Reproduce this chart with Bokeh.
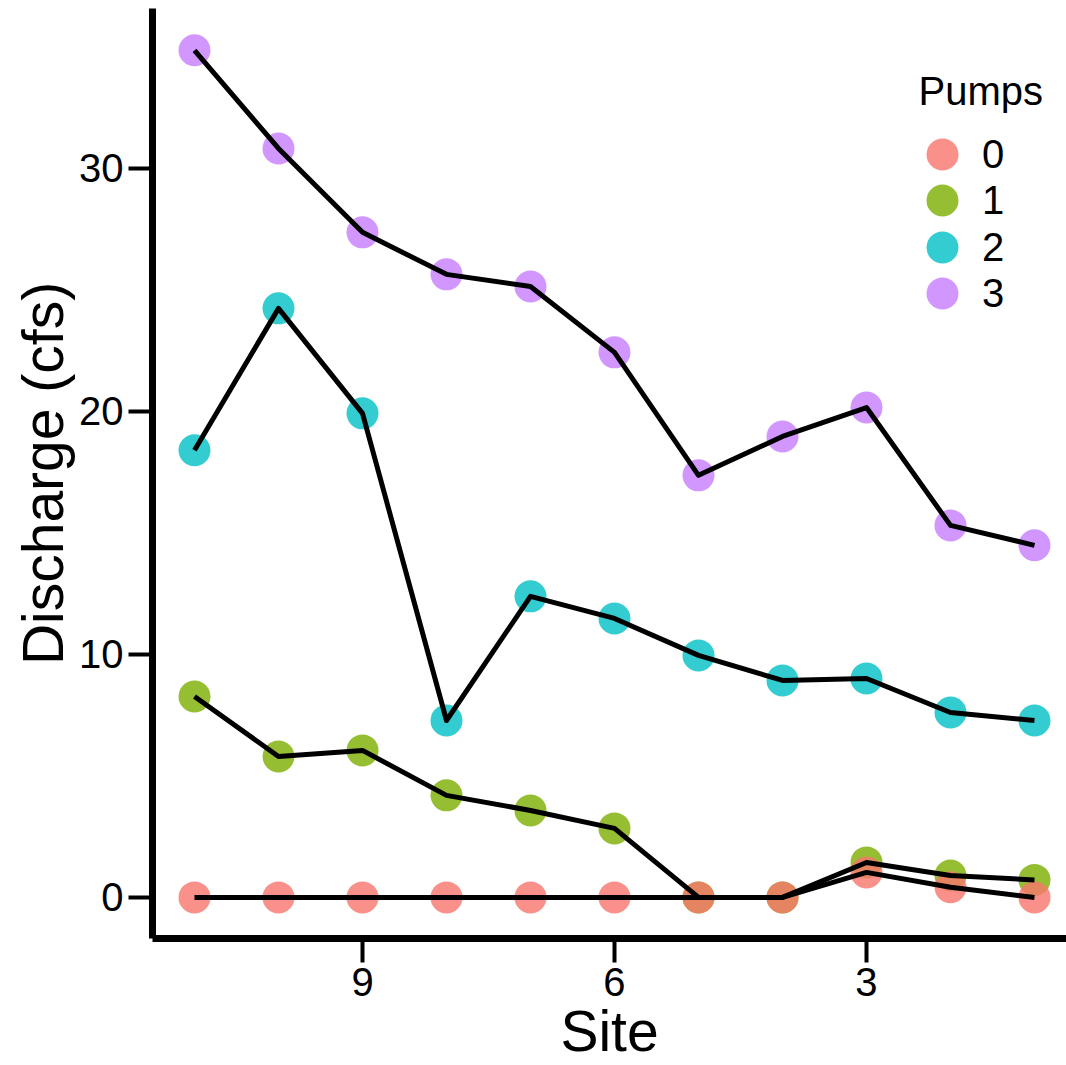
from bokeh.plotting import figure
from bokeh.models import Range1d, Legend, LegendItem, Label, FixedTicker
from bokeh.embed import file_html
from bokeh.resources import INLINE

# ---- data ----
sites = [11, 10, 9, 8, 7, 6, 5, 4, 3, 2, 1]
pumps_0 = [0, 0, 0, 0, 0, 0, 0, 0, 1.03, 0.42, 0]
pumps_1 = [8.27, 5.80, 6.05, 4.20, 3.58, 2.84, 0, 0, 1.44, 0.90, 0.72]
pumps_2 = [18.40, 24.24, 19.92, 7.28, 12.39, 11.48, 9.96, 8.93, 9.01, 7.61, 7.28]
pumps_3 = [34.86, 30.82, 27.37, 25.64, 25.14, 22.43, 17.37, 18.97, 20.16, 15.31, 14.49]
pump_labels = ["0", "1", "2", "3"]
pump_colors = ["#F8766D", "#7CAE00", "#00BFC4", "#C77CFF"]
x_ticks = [9, 6, 3]
y_ticks = [0, 10, 20, 30]

FONT = "Liberation Sans"

W, H = 1066, 1065
LEFT, TOP, BOTTOM = 152, 8, 938

p = figure(width=W, height=H,
           x_range=Range1d(11.5, 0.619), y_range=Range1d(-1.69, 36.58),
           output_backend="svg", toolbar_location=None,
           min_border_left=LEFT, min_border_right=0, min_border_top=TOP,
           min_border_bottom=H - BOTTOM)

p.xgrid.visible = False
p.ygrid.visible = False
p.outline_line_color = None
p.background_fill_color = "white"
p.border_fill_color = "white"

series = [pumps_0, pumps_1, pumps_2, pumps_3]
renderers = {}
# draw order: 3, 2, 1, 0 so red sits on top of green
for i in [3, 2, 1, 0]:
    r = p.scatter(sites, series[i], size=32, fill_color=pump_colors[i],
                  fill_alpha=0.8, line_color=None)
    renderers[i] = r
for i in [0, 1, 2, 3]:
    p.line(sites, series[i], line_color="black", line_width=5,
           line_join="round")

# legend: one single-entry legend per row (row pitch ~46 px, circle 32 px)
LEG_X = 902 - LEFT
for i in range(4):
    cy = 154 + 46.3 * i
    leg = Legend(items=[LegendItem(label=pump_labels[i], renderers=[renderers[i]])],
                 location=(LEG_X, round(BOTTOM - (cy + 40))),
                 glyph_width=80, glyph_height=80,
                 label_standoff=0, padding=0, margin=0,
                 border_line_alpha=0, background_fill_alpha=0,
                 label_text_font=FONT, label_text_font_size="40px",
                 label_text_color="black")
    p.add_layout(leg, "center")

title = Label(x=918 - LEFT, y=BOTTOM - 100 + 10, x_units="screen", y_units="screen",
              text="Pumps", text_font=FONT, text_font_size="40px",
              text_color="black", text_baseline="alphabetic")
p.add_layout(title)

for ax in (p.xaxis, p.yaxis):
    ax.axis_line_width = 7
    ax.axis_line_color = "black"
    ax.major_tick_line_width = 4
    ax.major_tick_line_color = "black"
    ax.major_tick_out = 24
    ax.major_tick_in = 0
    ax.minor_tick_out = 0
    ax.minor_tick_in = 0
    ax.major_label_text_font = FONT
    ax.major_label_text_font_size = "40px"
    ax.major_label_text_color = "black"
    ax.axis_label_text_font = FONT
    ax.axis_label_text_font_size = "57px"
    ax.axis_label_text_font_style = "normal"
    ax.axis_label_text_color = "black"

p.xaxis.ticker = FixedTicker(ticks=x_ticks)
p.yaxis.ticker = FixedTicker(ticks=y_ticks)
p.xaxis.axis_label = "Site"
p.yaxis.axis_label = "Discharge (cfs)"
p.xaxis.major_label_standoff = 5
p.yaxis.major_label_standoff = 5
p.xaxis.axis_label_standoff = 0
p.yaxis.axis_label_standoff = 1

open("out.html", "w").write(file_html(p, INLINE))
